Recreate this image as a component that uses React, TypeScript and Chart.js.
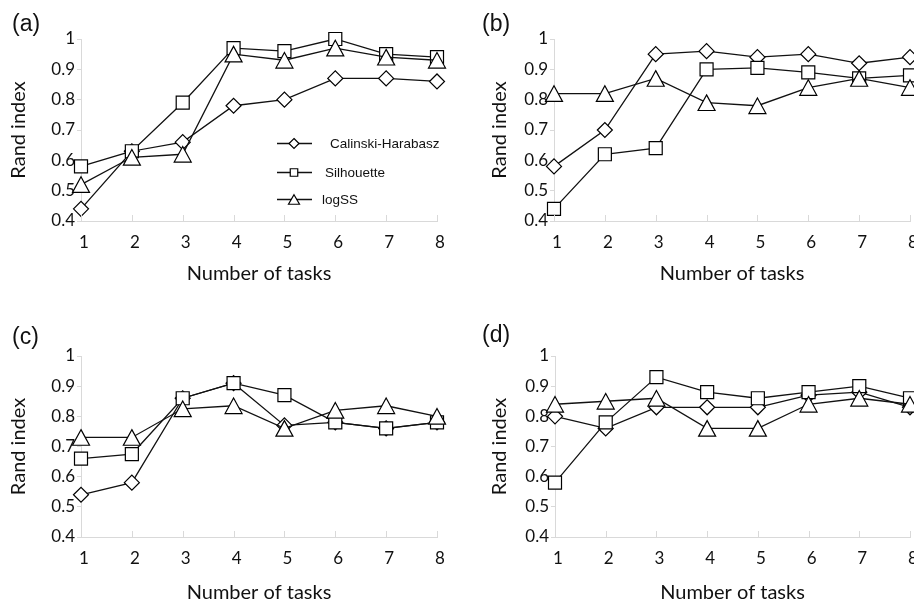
import React, { useEffect, useRef } from 'react';
import { Chart, registerables } from 'chart.js';

Chart.register(...registerables);

// ---------------- data ----------------
const tasks = ['1', '2', '3', '4', '5', '6', '7', '8'];
const seriesNames = ['Calinski-Harabasz', 'Silhouette', 'logSS'];
const panelLabels = ['(a)', '(b)', '(c)', '(d)'];

const aCH = [0.44, 0.63, 0.66, 0.78, 0.8, 0.87, 0.87, 0.86];
const aSil = [0.58, 0.63, 0.79, 0.97, 0.96, 1.0, 0.95, 0.94];
const aLog = [0.52, 0.61, 0.62, 0.95, 0.93, 0.97, 0.94, 0.93];

const bCH = [0.58, 0.7, 0.95, 0.96, 0.94, 0.95, 0.92, 0.94];
const bSil = [0.44, 0.62, 0.64, 0.9, 0.905, 0.89, 0.87, 0.88];
const bLog = [0.82, 0.82, 0.87, 0.79, 0.78, 0.84, 0.87, 0.84];

const cCH = [0.54, 0.58, 0.86, 0.91, 0.77, 0.78, 0.76, 0.78];
const cSil = [0.66, 0.675, 0.86, 0.91, 0.87, 0.78, 0.76, 0.78];
const cLog = [0.73, 0.73, 0.825, 0.835, 0.76, 0.82, 0.835, 0.8];

const dCH = [0.8, 0.76, 0.83, 0.83, 0.83, 0.87, 0.88, 0.83];
const dSil = [0.58, 0.78, 0.93, 0.88, 0.86, 0.88, 0.9, 0.86];
const dLog = [0.84, 0.85, 0.86, 0.76, 0.76, 0.84, 0.86, 0.84];

const yMin = 0.4;
const yMax = 1;
const yStep = 0.1;

// ---------------- styling ----------------
const AXIS = '#d9d9d9';
const INK = '#111';
const FONT = 'Lato, "Open Sans", sans-serif';

function triPath(ctx: CanvasRenderingContext2D, x: number, y: number, hw: number, hh: number) {
  ctx.beginPath();
  ctx.moveTo(x, y - hh);
  ctx.lineTo(x + hw, y + hh);
  ctx.lineTo(x - hw, y + hh);
  ctx.closePath();
}

function drawMarker(ctx: CanvasRenderingContext2D, kind: number, x: number, y: number, s: number) {
  if (kind === 2) {
    triPath(ctx, x, y, s * 1.1, s * 0.95);
  } else {
    ctx.beginPath();
    if (kind === 0) {
      ctx.moveTo(x, y - s);
      ctx.lineTo(x + s, y);
      ctx.lineTo(x, y + s);
      ctx.lineTo(x - s, y);
    } else {
      ctx.rect(x - s * 0.75, y - s * 0.75, s * 1.5, s * 1.5);
    }
    ctx.closePath();
  }
  ctx.fillStyle = '#fff';
  ctx.fill();
  ctx.lineWidth = 1.2;
  ctx.strokeStyle = '#000';
  ctx.stroke();
}

// triangles centred on their bounding box (as in the original), placed at the
// positions the library computed for each point
const triangleMarkers = {
  id: 'triangleMarkers',
  afterDatasetDraw(chart: any, args: any) {
    const ds = chart.data.datasets[args.index];
    if (!ds.triMarker) return;
    const { ctx } = chart;
    ctx.save();
    for (const el of args.meta.data) {
      triPath(ctx, el.x, el.y, 8.5, 7.8);
      ctx.fillStyle = '#fff';
      ctx.fill();
      ctx.lineWidth = 1.2;
      ctx.lineJoin = 'miter';
      ctx.strokeStyle = '#000';
      ctx.stroke();
    }
    ctx.restore();
  },
};

const innerTicks = {
  id: 'innerTicks',
  afterDatasetsDraw(chart: any) {
    const { ctx, chartArea } = chart;
    const xs = chart.scales.x;
    ctx.save();
    ctx.strokeStyle = AXIS;
    ctx.lineWidth = 1;
    for (let i = 0; i < tasks.length; i++) {
      const x = Math.round(xs.getPixelForValue(i)) + 0.5;
      ctx.beginPath();
      ctx.moveTo(x, chartArea.bottom);
      ctx.lineTo(x, chartArea.bottom - 6);
      ctx.stroke();
    }
    ctx.restore();
  },
};

const legendPlugin = {
  id: 'innerLegend',
  afterDraw(chart: any) {
    const opts = chart.options.plugins.innerLegend;
    if (!opts || !opts.show) return;
    const { ctx } = chart;
    const rows = [143, 172, 199];
    const textX = [330, 325, 322];
    ctx.save();
    for (let i = 0; i < seriesNames.length; i++) {
      const y = rows[i];
      ctx.beginPath();
      ctx.moveTo(277, y + 0.5);
      ctx.lineTo(312, y + 0.5);
      ctx.lineWidth = 1.3;
      ctx.strokeStyle = INK;
      ctx.stroke();
      drawMarker(ctx, i, 294, y + 0.5, 5);
      ctx.fillStyle = INK;
      ctx.font = '13.5px "Liberation Sans", Arial, sans-serif';
      ctx.textBaseline = 'middle';
      ctx.textAlign = 'left';
      ctx.fillText(seriesNames[i], textX[i], y + 1);
    }
    ctx.restore();
  },
};

type PanelCfg = {
  left: number;
  top: number;
  width: number;
  height: number;
  yAxisW: number;
  padTop: number;
  padRight: number;
  xAxisH: number;
  yTitlePad: number;
  xTitlePad: number;
  series: number[][];
  legend: boolean;
};

const panels: PanelCfg[] = [
  { left: 0, top: 0, width: 457, height: 300, yAxisW: 81, padTop: 39, padRight: 20, xAxisH: 79, yTitlePad: 7, xTitlePad: 14, series: [aCH, aSil, aLog], legend: true },
  { left: 457, top: 0, width: 477, height: 300, yAxisW: 97, padTop: 39, padRight: 24, xAxisH: 79, yTitlePad: 31, xTitlePad: 14, series: [bCH, bSil, bLog], legend: false },
  { left: 0, top: 300, width: 457, height: 320, yAxisW: 81, padTop: 56, padRight: 20, xAxisH: 83, yTitlePad: 7, xTitlePad: 15, series: [cCH, cSil, cLog], legend: false },
  { left: 457, top: 300, width: 477, height: 320, yAxisW: 98, padTop: 56, padRight: 24, xAxisH: 83, yTitlePad: 31, xTitlePad: 15, series: [dCH, dSil, dLog], legend: false },
];

const labelPos = [
  { left: 12, top: 12 },
  { left: 482, top: 12 },
  { left: 12, top: 325 },
  { left: 482, top: 323 },
];

function Panel({ cfg }: { cfg: PanelCfg }) {
  const ref = useRef<HTMLCanvasElement>(null);
  useEffect(() => {
    const canvas = ref.current!;
    const styles: any[] = ['rectRot', 'rect', 'triangle'];
    const radii = [7.5, 9.2, 0];
    const orders = [2, 1, 0];
    const chart = new Chart(canvas, {
      type: 'line',
      data: {
        labels: tasks,
        datasets: cfg.series.map((vals, i) => ({
          label: seriesNames[i],
          data: vals,
          borderColor: INK,
          borderWidth: 1.3,
          pointStyle: styles[i],
          pointRadius: radii[i],
          pointHoverRadius: radii[i],
          pointBackgroundColor: '#fff',
          pointBorderColor: '#000',
          pointBorderWidth: 1.2,
          tension: 0,
          fill: false,
          clip: false as any,
          order: orders[i],
          triMarker: i === 2,
        })) as any,
      },
      options: {
        animation: false,
        responsive: false,
        devicePixelRatio: 1,
        events: [],
        layout: {
          autoPadding: false,
          padding: { left: 0, right: cfg.padRight, top: cfg.padTop, bottom: 0 },
        },
        plugins: {
          legend: { display: false },
          tooltip: { enabled: false },
          innerLegend: { show: cfg.legend },
        } as any,
        scales: {
          x: {
            type: 'category',
            offset: false,
            grid: { display: true, drawOnChartArea: false, drawTicks: false, color: AXIS },
            border: { color: AXIS, width: 1 },
            ticks: {
              padding: 11,
              labelOffset: 3,
              color: INK,
              font: { family: FONT, size: 17 },
              maxRotation: 0,
              autoSkip: false,
            },
            title: {
              display: true,
              text: 'Number of tasks',
              color: INK,
              font: { family: FONT, size: 20 },
              padding: { top: 0, bottom: cfg.xTitlePad },
            },
            afterFit: (s: any) => {
              s.height = cfg.xAxisH;
            },
          },
          y: {
            type: 'linear',
            min: yMin,
            max: yMax,
            grid: { drawOnChartArea: false, drawTicks: true, tickLength: 4, color: AXIS },
            border: { color: AXIS, width: 1 },
            ticks: {
              stepSize: yStep,
              padding: 2,
              color: INK,
              font: { family: FONT, size: 17 },
              callback: (v: any) => String(Number(Number(v).toFixed(1))),
            },
            title: {
              display: true,
              text: 'Rand index',
              color: INK,
              font: { family: FONT, size: 20 },
              padding: { top: cfg.yTitlePad, bottom: 0 },
            },
            afterFit: (s: any) => {
              s.width = cfg.yAxisW;
            },
          },
        },
      },
      plugins: [innerTicks, triangleMarkers, legendPlugin],
    });
    return () => chart.destroy();
  }, [cfg]);
  return (
    <canvas
      ref={ref}
      width={cfg.width}
      height={cfg.height}
      style={{ position: 'absolute', left: cfg.left, top: cfg.top, width: cfg.width, height: cfg.height }}
    />
  );
}

export default function App() {
  return (
    <div
      style={{
        position: 'absolute',
        left: 0,
        top: 0,
        width: 914,
        height: 603,
        overflow: 'hidden',
        background: '#fff',
      }}
    >
      {panels.map((p, i) => (
        <Panel key={i} cfg={p} />
      ))}
      {panelLabels.map((t, i) => (
        <div
          key={t}
          style={{
            position: 'absolute',
            left: labelPos[i].left,
            top: labelPos[i].top,
            fontFamily: '"Liberation Sans", Arial, sans-serif',
            fontSize: 23,
            lineHeight: '23px',
            color: INK,
          }}
        >
          {t}
        </div>
      ))}
    </div>
  );
}
